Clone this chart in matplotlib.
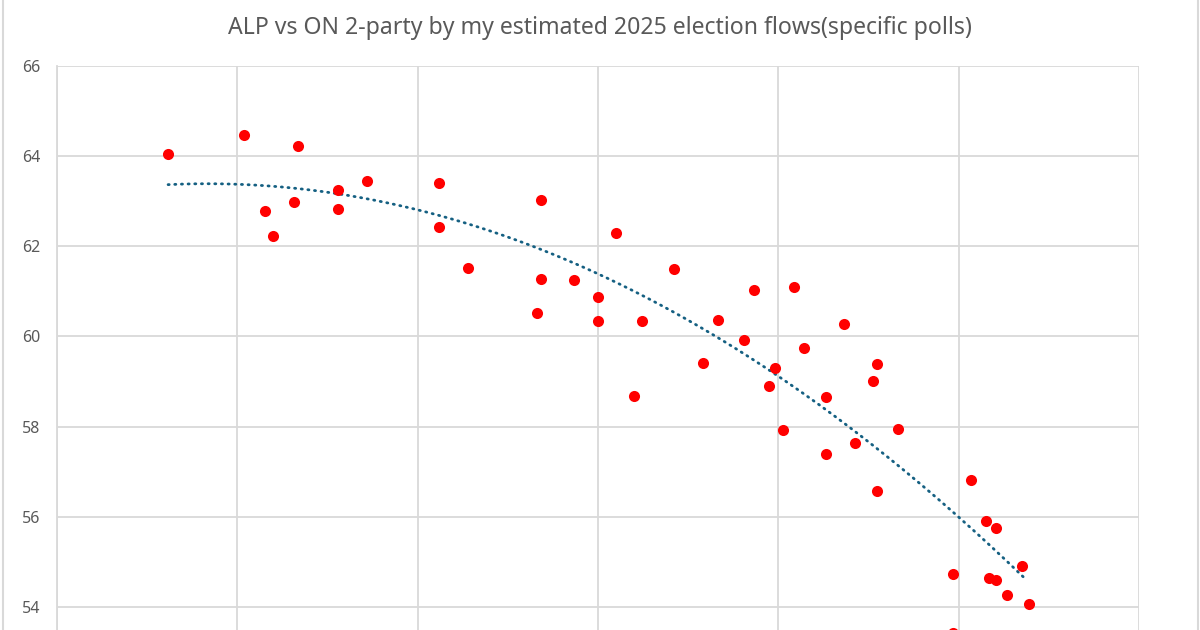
import numpy as np
import matplotlib.pyplot as plt
from matplotlib.lines import Line2D

plt.rcParams["font.family"] = ["Noto Sans", "DejaVu Sans"]

# poll positions along the (unlabelled) x axis and ALP 2-party share vs ON
poll_x = [0.616, 1.039, 1.338, 1.719, 2.120, 1.558, 1.316, 1.558, 1.155, 1.198,
          2.120, 2.281, 2.682, 3.102, 3.420, 2.682, 2.865, 2.998, 2.662, 2.998,
          3.246, 3.666, 3.865, 4.087, 3.808, 4.144, 3.584, 3.983, 3.947, 3.201,
          4.364, 4.545, 4.525, 4.264, 4.024, 4.665, 4.425, 4.264, 4.545, 5.067,
          5.152, 5.209, 4.967, 5.170, 5.209, 5.350, 5.270, 5.390, 4.967]
alp_2pp = [64.05, 64.47, 64.22, 63.46, 63.41, 63.26, 62.99, 62.82, 62.78, 62.24,
           62.43, 61.51, 63.03, 62.30, 61.49, 61.27, 61.25, 60.87, 60.51, 60.34,
           60.34, 60.37, 61.03, 61.09, 59.92, 59.74, 59.41, 59.31, 58.90, 58.68,
           60.28, 59.38, 59.01, 58.66, 57.93, 57.95, 57.64, 57.39, 56.58, 56.82,
           55.91, 55.76, 54.74, 54.64, 54.59, 54.91, 54.27, 54.07, 53.42]
y_ticks = [54, 56, 58, 60, 62, 64, 66]

title = "ALP vs ON 2-party by my estimated 2025 election flows(specific polls)"
grey_text = "#595959"
grid_col = "#d9d9d9"

fig = plt.figure(figsize=(12, 6.3), dpi=100)
# plot area runs off the bottom of the picture, like the cropped original
ax = fig.add_axes([57/1200, 0, (1139-57)/1200, (630-66)/630])

ax.scatter(poll_x, alp_2pp, s=64, color="#ff0000", zorder=3, linewidths=0)

# polynomial (order 2) trendline like Excel's
coef = np.polyfit(poll_x, alp_2pp, 2)
tx = np.linspace(min(poll_x), max(poll_x) - 0.02, 200)
ax.plot(tx, np.polyval(coef, tx), color="#156082", lw=2.0,
        linestyle=(0, (0.4, 2.0)), dash_capstyle="round", zorder=2)

ax.set_xlim(0, 6)
ax.set_ylim(66 - 564/45.08, 66)
ax.set_xticks(range(0, 7))
ax.set_yticks(y_ticks)
ax.set_xticklabels([])
ax.tick_params(length=0, labelsize=11.5, labelcolor=grey_text, pad=12)
ax.grid(True, color=grid_col, lw=1.3)
ax.set_axisbelow(True)
for side in ["top", "right", "bottom"]:
    ax.spines[side].set_visible(False)
ax.spines["left"].set_color(grid_col)
ax.spines["left"].set_linewidth(1.3)

fig.text(0.5, 1 - 28/630, title, ha="center", va="center",
         fontsize=16.6, color=grey_text)

# chart border edges visible at left and right
fig.add_artist(Line2D([2.5/1200, 2.5/1200], [0, 1], color=grid_col, lw=1.5))
fig.add_artist(Line2D([1197.5/1200, 1197.5/1200], [0, 1], color=grid_col, lw=1.5))

fig.savefig("out.png", dpi=100)
